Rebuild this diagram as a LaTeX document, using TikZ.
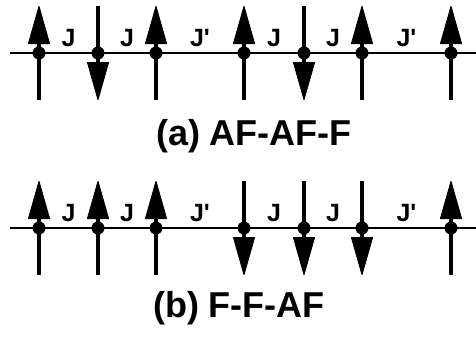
\documentclass[tikz,border=0pt]{standalone}
\usepackage{fontspec}
\setmainfont{Liberation Sans}
\usetikzlibrary{calc}
\begin{document}
\begin{tikzpicture}[x=1pt,y=-1pt,
  site/.style={circle,fill=black,inner sep=0pt,minimum size=13pt},
  stem/.style={line width=3.5pt},
  head/.style={fill=black,draw=black,line width=1pt,line join=round},
  chain/.style={line width=1.5pt},
  coup/.style={font=\bfseries\fontsize{25}{25}\selectfont,inner sep=0pt},
  caption/.style={font=\bfseries\fontsize{36}{36}\selectfont,inner sep=0pt}]
\useasboundingbox (0,0) rectangle (476,338);
% chain ends
\coordinate (aL) at (10,53);  \coordinate (aR) at (476,53);
\coordinate (bL) at (10,228); \coordinate (bR) at (476,228);
\draw[chain] (aL) -- (aR);
\draw[chain] (bL) -- (bR);
% sites
\foreach \i/\x in {1/39,2/98,3/156,4/244,5/304,6/362,7/451}{
  \coordinate (a\i) at (\x,53);
  \coordinate (b\i) at (\x,228);
}
% spins: direction -1 = up, 1 = down
\foreach \n/\d in {a1/-1,a2/1,a3/-1,a4/-1,a5/1,a6/-1,a7/-1,
                   b1/-1,b2/-1,b3/-1,b4/1,b5/1,b6/1,b7/-1}{
  \draw[stem] ($(\n)+(0,-47*\d)$) -- ($(\n)+(0,12*\d)$);
  \filldraw[head] ($(\n)+(-10.5,9.5*\d)$) -- ($(\n)+(10.5,9.5*\d)$) -- ($(\n)+(0,46.5*\d)$) -- cycle;
  \node[site] at (\n) {};
}
% couplings
\foreach \r in {a,b}{
  \node[coup] (\r J1) at ($(\r1)!0.5!(\r2)+(0,-15)$) {J};
  \node[coup] (\r J2) at ($(\r2)!0.5!(\r3)+(0,-15)$) {J};
  \node[coup] (\r J3) at ($(\r3)!0.5!(\r4)+(0,-15)$) {J\textquotesingle};
  \node[coup] (\r J4) at ($(\r4)!0.5!(\r5)+(0,-15)$) {J};
  \node[coup] (\r J5) at ($(\r5)!0.5!(\r6)+(0,-15)$) {J};
  \node[coup] (\r J6) at ($(\r6)!0.5!(\r7)+(0,-15)$) {J\textquotesingle};
}
\node[caption] (capa) at (254,136) {(a) AF-AF-F};
\node[caption] (capb) at (239,308) {(b) F-F-AF};
\end{tikzpicture}
\end{document}
